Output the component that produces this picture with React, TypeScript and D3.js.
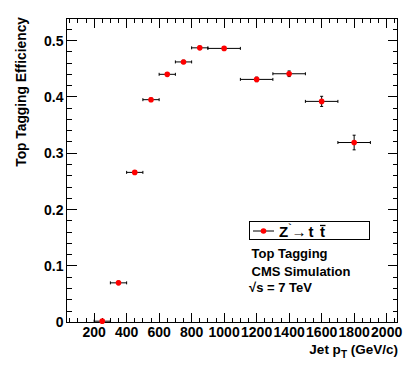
import React from "react";
import * as d3 from "d3";

const binLow = [200, 300, 400, 500, 600, 700, 800, 900, 1100, 1300, 1500, 1700];
const binHigh = [300, 400, 500, 600, 700, 800, 900, 1100, 1300, 1500, 1700, 1900];
const ptCenter = [250, 350, 450, 550, 650, 750, 850, 1000, 1200, 1400, 1600, 1800];
const efficiency = [0.002, 0.070, 0.266, 0.395, 0.440, 0.462, 0.487, 0.486, 0.431, 0.441, 0.392, 0.319];
const effError = [0.001, 0.003, 0.003, 0.003, 0.003, 0.003, 0.003, 0.003, 0.004, 0.005, 0.009, 0.013];
const xTickLabels = [200, 400, 600, 800, 1000, 1200, 1400, 1600, 1800, 2000];
const yTickLabels = [0, 0.1, 0.2, 0.3, 0.4, 0.5];

const W = 415, H = 371;
const L = 66.5, R = 397.7, T = 18.7, B = 322.3;
const FONT = "'Liberation Sans', Arial, Helvetica, sans-serif";

export default function App() {
  const x = d3.scaleLinear().domain([30, 2068]).range([L, R]);
  const y = d3.scaleLinear().domain([0, 0.5387]).range([B, T]);

  const xMinor = d3.range(50, 2068, 50).filter((v) => v % 200 !== 0);
  const yMinor = d3.range(0.02, 0.5387, 0.02).filter((v) => Math.abs(v * 10 - Math.round(v * 10)) > 0.01);

  const data = ptCenter.map((c, i) => ({
    c, lo: binLow[i], hi: binHigh[i], v: efficiency[i], e: effError[i],
  }));

  return (
    <svg width={W} height={H} style={{ position: "absolute", left: 0, top: 0, background: "#fff" }}
      xmlns="http://www.w3.org/2000/svg">
      <rect x={0} y={0} width={W} height={H} fill="#fff" />
      <g stroke="#000" strokeWidth={1} shapeRendering="crispEdges">
        {xTickLabels.map((v) => (
          <g key={"xm" + v}>
            <line x1={x(v)} x2={x(v)} y1={B} y2={B - 9} />
            <line x1={x(v)} x2={x(v)} y1={T} y2={T + 9} />
          </g>
        ))}
        {xMinor.map((v) => (
          <g key={"xn" + v}>
            <line x1={x(v)} x2={x(v)} y1={B} y2={B - 4.5} />
            <line x1={x(v)} x2={x(v)} y1={T} y2={T + 4.5} />
          </g>
        ))}
        {yTickLabels.map((v) => (
          <g key={"ym" + v}>
            <line x1={L} x2={L + 10} y1={y(v)} y2={y(v)} />
            <line x1={R} x2={R - 10} y1={y(v)} y2={y(v)} />
          </g>
        ))}
        {yMinor.map((v) => (
          <g key={"yn" + v}>
            <line x1={L} x2={L + 5} y1={y(v)} y2={y(v)} />
            <line x1={R} x2={R - 5} y1={y(v)} y2={y(v)} />
          </g>
        ))}
        <rect x={L} y={T} width={R - L} height={B - T} fill="none" />
      </g>
      <g fontFamily={FONT} fontWeight="bold" fontSize={14} fill="#000">
        {xTickLabels.map((v) => (
          <text key={"xl" + v} x={x(v)} y={337} textAnchor="middle">{v}</text>
        ))}
        {yTickLabels.map((v) => (
          <text key={"yl" + v} x={63.5} y={y(v) + 5} textAnchor="end">{v === 0 ? "0" : v.toFixed(1)}</text>
        ))}
      </g>
      <text fontFamily={FONT} fontWeight="bold" fontSize={13.5} x={398} y={354} textAnchor="end">
        Jet p<tspan fontSize={10} dy={4}>T</tspan><tspan dy={-4}> (GeV/c)</tspan>
      </text>
      <text fontFamily={FONT} fontWeight="bold" fontSize={13.8} textAnchor="end"
        transform={`translate(25.5,17) rotate(-90)`}>Top Tagging Efficiency</text>
      <g stroke="#000" strokeWidth={1}>
        {data.map((d, i) => (
          <g key={"d" + i}>
            <line x1={x(d.lo)} x2={x(d.hi)} y1={y(d.v)} y2={y(d.v)} />
            <line x1={x(d.lo)} x2={x(d.lo)} y1={y(d.v) - 1.5} y2={y(d.v) + 1.5} />
            <line x1={x(d.hi)} x2={x(d.hi)} y1={y(d.v) - 1.5} y2={y(d.v) + 1.5} />
            <line x1={x(d.c)} x2={x(d.c)} y1={y(d.v - d.e)} y2={y(d.v + d.e)} />
            <line x1={x(d.c) - 1.5} x2={x(d.c) + 1.5} y1={y(d.v - d.e)} y2={y(d.v - d.e)} />
            <line x1={x(d.c) - 1.5} x2={x(d.c) + 1.5} y1={y(d.v + d.e)} y2={y(d.v + d.e)} />
          </g>
        ))}
      </g>
      <g fill="#ff0000">
        {data.map((d, i) => (
          <circle key={"c" + i} cx={x(d.c)} cy={y(d.v)} r={2.8} />
        ))}
      </g>
      <rect x={249.5} y={221.5} width={120} height={18} fill="#fff" stroke="#000" strokeWidth={1} />
      <line x1={253} x2={274} y1={231} y2={231} stroke="#000" strokeWidth={1} />
      <circle cx={263.5} cy={231} r={2.8} fill="#ff0000" />
      <text fontFamily={FONT} fontWeight="bold" fontSize={15} x={279} y={237}>
        Z<tspan fontSize={10} dy={-6}>`</tspan><tspan dy={6} fontWeight="normal">→</tspan>
        <tspan dx={2}>t </tspan>
      </text>
      <text fontFamily={FONT} fontWeight="bold" fontSize={15} x={320} y={237}>t</text>
      <line x1={320} x2={325.5} y1={225.5} y2={225.5} stroke="#000" strokeWidth={1.3} />
      <g fontFamily={FONT} fontWeight="bold" fontSize={13}>
        <text x={251.5} y={258}>Top Tagging</text>
        <text x={251.5} y={276}>CMS Simulation</text>
        <text x={249} y={292}>√s = 7 TeV</text>
      </g>
    </svg>
  );
}
